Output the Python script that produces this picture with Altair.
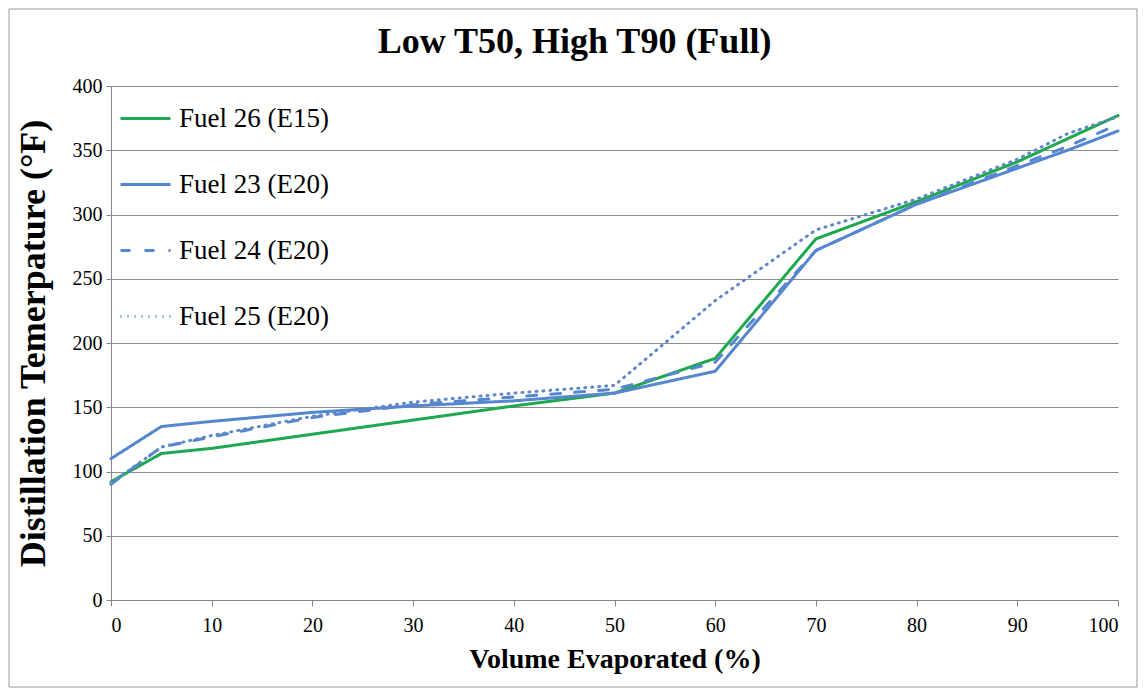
import altair as alt
import pandas as pd

volume = [0, 5, 10, 20, 30, 40, 50, 60, 70, 80, 90, 95, 100]

series_names = ["Fuel 26 (E15)", "Fuel 23 (E20)", "Fuel 24 (E20)", "Fuel 25 (E20)"]
fuel26 = [92, 114, 118, 129, 140, 151, 161, 188, 281, 310, 341, 359, 377]
fuel23 = [110, 135, 139, 146, 151, 155, 161, 178, 272, 308, 336, 350, 365]
fuel24 = [90, 119, 127, 142, 152, 158, 164, 185, 272, 308, 338, 353, 370]
fuel25 = [91, 119, 128, 143, 154, 161, 167, 233, 288, 312, 343, 363, 376]

series_colors = ["#1fa84f", "#5587d0", "#5587d0", "#6088c6"]
series_dashes = [[1, 0], [1, 0], [10, 14], [1, 6]]

x_ticks = [0, 10, 20, 30, 40, 50, 60, 70, 80, 90, 100]
y_ticks = [0, 50, 100, 150, 200, 250, 300, 350, 400]

rows = []
for name, vals in zip(series_names, [fuel26, fuel23, fuel24, fuel25]):
    for v, t in zip(volume, vals):
        rows.append({"series": name, "volume": v, "temp": t})
df = pd.DataFrame(rows)

SERIF = "Liberation Serif"

legend_kw = dict(title=None, orient="none", legendX=8, legendY=6,
                 symbolType="stroke", symbolSize=2500, symbolStrokeWidth=3,
                 rowPadding=26, labelFont=SERIF, labelFontSize=27,
                 labelColor="black", labelOffset=7, padding=0)

lines = alt.Chart(df).mark_line(strokeWidth=3, strokeCap="round", clip=False).encode(
    x=alt.X("volume:Q",
            scale=alt.Scale(domain=[0, 100], nice=False),
            axis=alt.Axis(values=x_ticks, title="Volume Evaporated  (%)", grid=False,
                          tickSize=6, labelPadding=9, titlePadding=10,
                          titleFontSize=28)),
    y=alt.Y("temp:Q",
            scale=alt.Scale(domain=[0, 400], nice=False),
            axis=alt.Axis(values=y_ticks, title="Distillation Temerpature (°F)",
                          grid=True, tickSize=5, labelPadding=4, titlePadding=20,
                          titleFontSize=36)),
    color=alt.Color("series:N",
                    scale=alt.Scale(domain=series_names, range=series_colors),
                    legend=alt.Legend(**legend_kw)),
    strokeDash=alt.StrokeDash("series:N",
                              scale=alt.Scale(domain=series_names, range=series_dashes),
                              legend=alt.Legend(**legend_kw)),
    detail="series:N",
    order="volume:Q",
)

frame = alt.Chart(alt.Data(values=[{}])).mark_rect(fill=None, stroke="#9a9a9a", strokeWidth=1).encode(
    x=alt.value(-102), x2=alt.value(1026), y=alt.value(-77), y2=alt.value(601)
)

chart = alt.layer(frame, lines).properties(
    width=1007,
    height=514,
    title=alt.TitleParams(text="Low T50, High T90 (Full)", font=SERIF, fontSize=36,
                          fontWeight="bold", color="black", anchor="middle",
                          frame="group", offset=-52, dx=-40),
    autosize=alt.AutoSizeParams(type="none"),
    padding={"left": 103, "top": 78, "right": 20, "bottom": 88},
).configure(background="white").configure_axis(
    labelFont=SERIF, labelFontSize=20, labelColor="black",
    titleFont=SERIF, titleFontWeight="bold", titleColor="black",
    domainColor="#868686", tickColor="#868686", gridColor="#8c8c8c",
    domainWidth=1, gridWidth=1,
).configure_view(stroke=None)

chart.save("out.html", embed_options={"renderer": "svg", "actions": False})
